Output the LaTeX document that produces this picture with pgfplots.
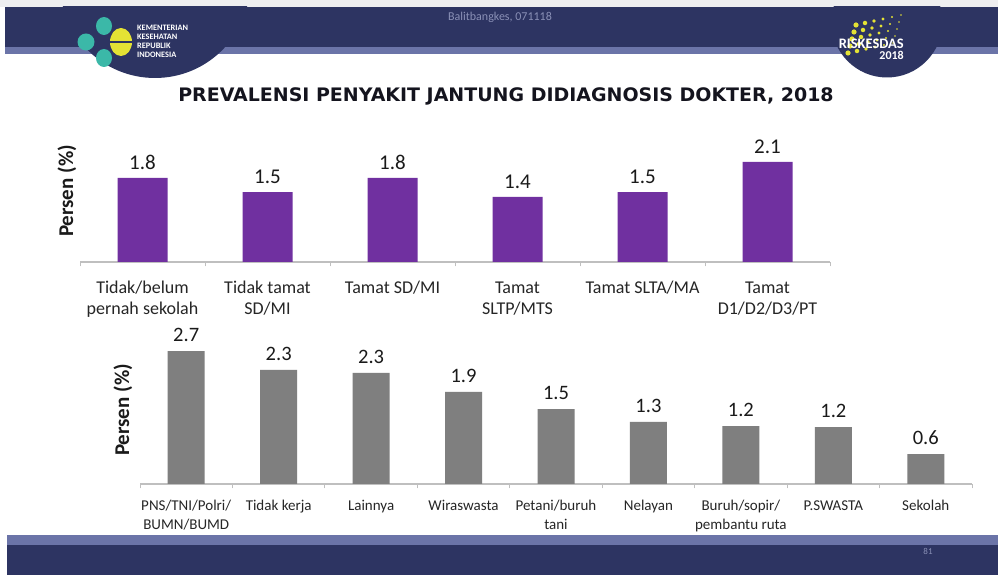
\documentclass[border=0pt]{standalone}
\usepackage{fontspec}
\usepackage{pgfplots}
\pgfplotsset{compat=1.18}
\setmainfont{Carlito}
\newfontfamily\titlefont{DejaVu Sans}
\definecolor{navy}{HTML}{2D3462}
\definecolor{stripe}{HTML}{6B74A8}
\definecolor{topstrip}{HTML}{EEEEF0}
\definecolor{purplec}{HTML}{7030A0}
\definecolor{grayc}{HTML}{7F7F7F}
\definecolor{axisgray}{HTML}{BFBFBF}
\definecolor{labelc}{HTML}{262626}
\definecolor{valc}{HTML}{1A1A1A}
\definecolor{titlec}{HTML}{14141E}
\definecolor{tealc}{HTML}{3BB8A8}
\definecolor{yellowc}{HTML}{E4E234}
\definecolor{hdrtext}{HTML}{8A90B6}
\begin{document}
\begin{tikzpicture}[x=1pt,y=1pt]
\path[use as bounding box] (0,0) rectangle (998,575);
\fill[white] (0,0) rectangle (998,575);
% header
\fill[topstrip] (0,568) rectangle (998,575);
\fill[navy] (5,528) rectangle (998,568);
\fill[stripe] (5,521) rectangle (998,528);
\begin{scope}
\clip (0,0) rectangle (998,568);
\fill[navy] (155,592) circle (95);
\fill[navy] (887,553) circle (55.5);
\end{scope}
% left logo
\fill[tealc] (86,533) circle (8.5);
\fill[tealc] (104,549) ellipse (8 and 9);
\fill[tealc] (104,517) ellipse (8 and 9);
\fill[yellowc] (121,533) ellipse (11 and 14);
\draw[navy, line width=1.2pt] (96,533) -- (132,533);
\node[anchor=north west, align=left, text=white, font=\bfseries\fontsize{8.3}{9}\selectfont, inner sep=0pt] at (137,550) {KEMENTERIAN\\KESEHATAN\\REPUBLIK\\INDONESIA};
% right logo
\foreach \i in {0,...,5}{
  \foreach \j in {0,...,4}{
    \fill[yellowc] ({848+9*\i+2*\j},{522+7*\j+2*\i}) circle ({2.6-0.35*\i});
  }
}
\node[anchor=east, text=white, font=\bfseries\fontsize{14.5}{14.5}\selectfont, inner sep=0pt] at (904,531) {RISKESDAS};
\node[anchor=north east, text=white, font=\bfseries\fontsize{12}{12}\selectfont, inner sep=0pt] at (904,524) {2018};
\node[text=hdrtext, font=\fontsize{12}{12}\selectfont] at (500,558) {Balitbangkes, 071118};
% footer
\fill[stripe] (7,30) rectangle (998,40);
\fill[navy] (7,0) rectangle (998,30);
\node[text=hdrtext, font=\fontsize{9}{9}\selectfont] at (928,24) {81};
% title
\node[anchor=base, text=titlec, font=\titlefont\bfseries\fontsize{18.6}{18.6}\selectfont, inner sep=0pt, xscale=1.02] at (506,473) {PREVALENSI PENYAKIT JANTUNG DIDIAGNOSIS DOKTER, 2018};
% y labels
\node[rotate=90, text=valc, font=\bfseries\fontsize{21}{21}\selectfont] at (67,384) {Persen (\%)};
\node[rotate=90, text=valc, font=\bfseries\fontsize{21}{21}\selectfont] at (123,165) {Persen (\%)};
% top chart
\begin{axis}[
  at={(80pt,313pt)}, anchor=south west,
  scale only axis, width=750pt, height=120pt,
  xmin=-0.5, xmax=5.5, ymin=0, ymax=2.54,
  axis x line*=bottom, axis y line=none,
  x axis line style={-, draw=axisgray, line width=1.2pt},
  xtick={0,...,5},
  xticklabels={{Tidak/belum\\pernah sekolah},{Tidak tamat\\SD/MI},{Tamat SD/MI},{Tamat\\SLTP/MTS},{Tamat SLTA/MA},{Tamat\\D1/D2/D3/PT}},
  typeset ticklabels with strut,
  major tick length=0pt,
  minor xtick={-0.5,0.5,...,5.5}, minor tick length=4.5pt, tick align=outside,
  minor tick style={draw=axisgray, line width=1pt},
  x tick label style={font=\fontsize{18}{21.5}\selectfont, align=center, text=labelc, inner sep=0pt, yshift=-16pt},
  ybar, bar width=50pt,
  nodes near coords,
  every node near coord/.append style={font=\fontsize{21}{21}\selectfont, text=valc, inner sep=0pt, yshift=8pt, anchor=south},
  clip=false,
  /pgf/number format/fixed, /pgf/number format/fixed zerofill, /pgf/number format/precision=1, /pgf/number format/assume math mode=true,
]
\addplot[fill=purplec, draw=none] coordinates {(0,1.78) (1,1.48) (2,1.78) (3,1.38) (4,1.48) (5,2.12)};
\end{axis}
% bottom chart
\begin{axis}[
  at={(140pt,91pt)}, anchor=south west,
  scale only axis, width=832pt, height=140pt,
  xmin=-0.5, xmax=8.5, ymin=0, ymax=2.857,
  axis x line*=bottom, axis y line=none,
  x axis line style={-, draw=axisgray, line width=1.2pt},
  xtick={0,...,8},
  xticklabels={{PNS/TNI/Polri/\\BUMN/BUMD},{Tidak kerja},{Lainnya},{Wiraswasta},{Petani/buruh\\tani},{Nelayan},{Buruh/sopir/\\pembantu ruta},{P.SWASTA},{Sekolah}},
  typeset ticklabels with strut,
  major tick length=0pt,
  minor xtick={-0.5,0.5,...,8.5}, minor tick length=4.5pt, tick align=outside,
  minor tick style={draw=axisgray, line width=1pt},
  x tick label style={font=\fontsize{15}{19}\selectfont, align=center, text=labelc, inner sep=0pt, yshift=-13pt},
  ybar, bar width=37pt,
  nodes near coords,
  every node near coord/.append style={font=\fontsize{20.5}{20.5}\selectfont, text=valc, inner sep=0pt, yshift=9pt, anchor=south},
  clip=false,
  /pgf/number format/fixed, /pgf/number format/fixed zerofill, /pgf/number format/precision=1, /pgf/number format/assume math mode=true,
]
\addplot[fill=grayc, draw=none] coordinates {(0,2.71) (1,2.33) (2,2.27) (3,1.88) (4,1.53) (5,1.27) (6,1.18) (7,1.16) (8,0.61)};
\end{axis}
\end{tikzpicture}
\end{document}
